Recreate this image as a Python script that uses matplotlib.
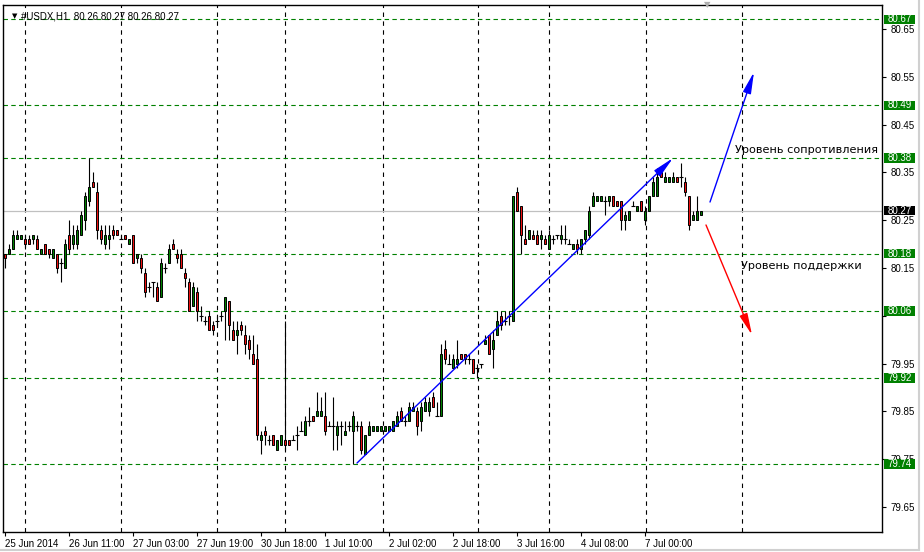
import matplotlib.pyplot as plt
from matplotlib.patches import Rectangle
from matplotlib.lines import Line2D
import matplotlib.transforms as mtransforms

# hourly USDX candles, bar index 0 .. 174
opens = [80.18, 80.18, 80.19, 80.21, 80.21, 80.21, 80.21, 80.21, 80.21, 80.18,
         80.20, 80.19, 80.17, 80.18, 80.16, 80.15, 80.22, 80.20, 80.20, 80.22,
         80.25, 80.29, 80.33, 80.31, 80.23, 80.20, 80.21, 80.23, 80.23, 80.21,
         80.22, 80.20, 80.22, 80.17, 80.17, 80.14, 80.11, 80.12, 80.11, 80.09,
         80.15, 80.16, 80.20, 80.18, 80.18, 80.14, 80.12, 80.07, 80.10, 80.05,
         80.04, 80.05, 80.03, 80.04, 80.05, 80.06, 80.08, 80.02, 80.01, 80.03,
         80.01, 80.00, 79.97, 79.96, 79.79, 79.81, 79.79, 79.80, 79.77, 79.78,
         79.79, 79.79, 79.79, 79.80, 79.81, 79.80, 79.83, 79.84, 79.84, 79.84,
         79.84, 79.82, 79.82, 79.80, 79.82, 79.80, 79.82, 79.81, 79.82, 79.82,
         79.76, 79.80, 79.81, 79.81, 79.81, 79.81, 79.81, 79.81, 79.82, 79.85,
         79.83, 79.83, 79.85, 79.85, 79.83, 79.85, 79.85, 79.88, 79.84, 79.84,
         79.98, 79.95, 79.94, 79.95, 79.97, 79.97, 79.96, 79.96, 79.94, 79.95,
         79.99, 80.01, 79.98, 80.01, 80.05, 80.04, 80.05, 80.04, 80.31, 80.28,
         80.21, 80.21, 80.22, 80.22, 80.21, 80.21, 80.19, 80.21, 80.22, 80.21,
         80.21, 80.20, 80.19, 80.20, 80.19, 80.21, 80.22, 80.28, 80.29, 80.29,
         80.29, 80.29, 80.30, 80.29, 80.29, 80.25, 80.25, 80.28, 80.27, 80.29,
         80.25, 80.27, 80.30, 80.30, 80.35, 80.33, 80.33, 80.33, 80.34, 80.34,
         80.33, 80.30, 80.25, 80.25, 80.26]
highs = [80.18, 80.20, 80.23, 80.23, 80.22, 80.22, 80.22, 80.22, 80.22, 80.19,
         80.20, 80.19, 80.19, 80.18, 80.17, 80.21, 80.25, 80.24, 80.24, 80.27,
         80.31, 80.38, 80.35, 80.33, 80.24, 80.24, 80.24, 80.24, 80.23, 80.22,
         80.22, 80.21, 80.22, 80.18, 80.18, 80.15, 80.12, 80.12, 80.12, 80.17,
         80.16, 80.20, 80.21, 80.19, 80.19, 80.15, 80.13, 80.12, 80.11, 80.07,
         80.05, 80.06, 80.04, 80.05, 80.06, 80.09, 80.08, 80.04, 80.04, 80.04,
         80.03, 80.01, 80.01, 79.99, 79.81, 79.82, 79.80, 79.80, 79.79, 79.80,
         80.04, 79.79, 79.80, 79.82, 79.83, 79.84, 79.86, 79.84, 79.89, 79.88,
         79.89, 79.83, 79.88, 79.83, 79.83, 79.83, 79.83, 79.85, 79.83, 79.83,
         79.80, 79.83, 79.82, 79.82, 79.82, 79.82, 79.82, 79.83, 79.85, 79.86,
         79.84, 79.87, 79.87, 79.86, 79.87, 79.88, 79.88, 79.89, 79.87, 79.99,
         80.00, 79.97, 79.97, 80.00, 79.97, 79.97, 79.97, 79.96, 79.95, 79.95,
         80.01, 80.01, 80.02, 80.06, 80.06, 80.06, 80.06, 80.30, 80.32, 80.28,
         80.24, 80.23, 80.23, 80.23, 80.23, 80.22, 80.23, 80.22, 80.22, 80.24,
         80.24, 80.21, 80.20, 80.21, 80.21, 80.23, 80.28, 80.31, 80.30, 80.30,
         80.30, 80.30, 80.30, 80.29, 80.29, 80.27, 80.27, 80.29, 80.28, 80.29,
         80.28, 80.30, 80.34, 80.36, 80.36, 80.35, 80.34, 80.35, 80.34, 80.37,
         80.34, 80.30, 80.27, 80.30, 80.27]
lows = [80.15, 80.18, 80.19, 80.21, 80.21, 80.19, 80.20, 80.20, 80.19, 80.18,
        80.18, 80.17, 80.17, 80.14, 80.12, 80.15, 80.18, 80.19, 80.19, 80.22,
        80.23, 80.28, 80.32, 80.21, 80.20, 80.19, 80.19, 80.21, 80.22, 80.21,
        80.21, 80.20, 80.16, 80.16, 80.14, 80.09, 80.10, 80.09, 80.08, 80.09,
        80.14, 80.16, 80.19, 80.16, 80.15, 80.11, 80.06, 80.07, 80.04, 80.04,
        80.03, 80.02, 80.01, 80.03, 80.04, 80.00, 80.00, 80.00, 79.97, 80.01,
        79.97, 79.96, 79.95, 79.79, 79.76, 79.78, 79.78, 79.78, 79.77, 79.78,
        79.77, 79.78, 79.79, 79.77, 79.81, 79.80, 79.82, 79.83, 79.84, 79.84,
        79.80, 79.82, 79.77, 79.77, 79.78, 79.80, 79.81, 79.74, 79.81, 79.76,
        79.76, 79.80, 79.81, 79.81, 79.81, 79.81, 79.81, 79.81, 79.82, 79.83,
        79.82, 79.83, 79.85, 79.80, 79.81, 79.85, 79.84, 79.86, 79.84, 79.84,
        79.95, 79.95, 79.94, 79.94, 79.96, 79.95, 79.95, 79.93, 79.92, 79.94,
        79.99, 79.97, 79.94, 80.01, 80.02, 80.03, 80.03, 80.04, 80.27, 80.18,
        80.20, 80.21, 80.21, 80.20, 80.19, 80.20, 80.19, 80.20, 80.21, 80.20,
        80.20, 80.20, 80.19, 80.18, 80.18, 80.20, 80.21, 80.28, 80.29, 80.29,
        80.26, 80.28, 80.28, 80.28, 80.23, 80.23, 80.25, 80.28, 80.27, 80.27,
        80.24, 80.27, 80.30, 80.30, 80.34, 80.33, 80.33, 80.33, 80.33, 80.32,
        80.30, 80.23, 80.25, 80.25, 80.26]
closes = [80.17, 80.19, 80.22, 80.22, 80.22, 80.20, 80.20, 80.22, 80.19, 80.19,
          80.18, 80.18, 80.19, 80.15, 80.16, 80.20, 80.19, 80.22, 80.23, 80.26,
          80.30, 80.32, 80.32, 80.23, 80.21, 80.22, 80.22, 80.22, 80.22, 80.21,
          80.21, 80.21, 80.16, 80.18, 80.15, 80.10, 80.11, 80.12, 80.08, 80.16,
          80.15, 80.19, 80.19, 80.17, 80.15, 80.13, 80.06, 80.11, 80.06, 80.05,
          80.04, 80.02, 80.02, 80.04, 80.05, 80.09, 80.03, 80.00, 80.02, 80.02,
          79.99, 79.98, 79.95, 79.80, 79.80, 79.80, 79.79, 79.78, 79.79, 79.80,
          79.78, 79.78, 79.79, 79.80, 79.81, 79.83, 79.83, 79.83, 79.85, 79.85,
          79.81, 79.82, 79.82, 79.82, 79.82, 79.81, 79.82, 79.84, 79.82, 79.77,
          79.80, 79.82, 79.82, 79.82, 79.82, 79.82, 79.82, 79.83, 79.84, 79.83,
          79.83, 79.86, 79.86, 79.82, 79.86, 79.87, 79.87, 79.86, 79.84, 79.97,
          79.96, 79.95, 79.96, 79.96, 79.96, 79.96, 79.96, 79.93, 79.94, 79.95,
          80.00, 79.97, 80.00, 80.04, 80.03, 80.04, 80.05, 80.30, 80.27, 80.22,
          80.20, 80.23, 80.21, 80.20, 80.22, 80.20, 80.22, 80.21, 80.22, 80.22,
          80.21, 80.20, 80.20, 80.19, 80.21, 80.23, 80.27, 80.30, 80.30, 80.30,
          80.29, 80.30, 80.28, 80.28, 80.25, 80.26, 80.27, 80.28, 80.28, 80.27,
          80.27, 80.30, 80.33, 80.34, 80.34, 80.34, 80.34, 80.34, 80.33, 80.34,
          80.31, 80.24, 80.26, 80.27, 80.27]

levels = [80.67, 80.49, 80.38, 80.18, 80.06, 79.92, 79.74]
last_price = 80.27
day_lines = [5.08, 29.08, 53.08, 70.1, 94.4, 118.3, 136.0, 160.25, 184.25]
xtick_bars = [0, 16, 32, 48, 64, 80, 96, 112, 128, 144, 160]
xtick_labels = ['25 Jun 2014', '26 Jun 11:00', '27 Jun 03:00', '27 Jun 19:00',
                '30 Jun 18:00', '1 Jul 10:00', '2 Jul 02:00', '2 Jul 18:00',
                '3 Jul 16:00', '4 Jul 08:00', '7 Jul 00:00']
yticks = [80.65, 80.55, 80.45, 80.35, 80.25, 80.15, 80.05, 79.95, 79.85, 79.75, 79.65]

W, H = 924, 552
fig = plt.figure(figsize=(W / 100, H / 100), dpi=100)
ax = fig.add_axes([3 / W, 20 / H, 879 / W, 527 / H])
ax.set_xlim(-0.5, 219.25)
ax.set_ylim(79.5977, 80.7002)

green = '#008000'
bull = '#008000'
bear = '#ee1111'
small = dict(family='Liberation Sans', size=7)

# grid
for x in day_lines:
    ax.axvline(x, color='black', lw=0.8, ls=(0, (4, 4)), zorder=1)
for lv in levels:
    ax.axhline(lv, color=green, lw=0.8, ls=(0, (4, 3)), zorder=1)
ax.axhline(last_price, color='#c0c0c0', lw=0.9, zorder=1)

# candles
for i in range(len(opens)):
    o, h, l, c = opens[i], highs[i], lows[i], closes[i]
    h = max(h, o, c)
    l = min(l, o, c)
    ax.vlines(i, l, h, color='black', lw=0.8, zorder=2)
    if abs(c - o) < 1e-9:
        ax.hlines(o, i - 0.45, i + 0.45, color='black', lw=0.8, zorder=3)
    else:
        ax.bar(i, abs(c - o), bottom=min(o, c), width=0.72,
               color=bull if c > o else bear, edgecolor='black', lw=0.7, zorder=3)

# trend arrows and text
head = '-|>,head_length=1.3,head_width=0.25'
ax.annotate('', xy=(167, 80.38), xytext=(88, 79.742),
            arrowprops=dict(arrowstyle=head, color='blue', lw=1, shrinkA=0, shrinkB=0), zorder=5)
ax.annotate('', xy=(187.25, 80.56), xytext=(176.25, 80.288),
            arrowprops=dict(arrowstyle=head, color='blue', lw=1, shrinkA=0, shrinkB=0), zorder=5)
ax.annotate('', xy=(186.75, 80.01), xytext=(175.25, 80.24),
            arrowprops=dict(arrowstyle=head, color='red', lw=1, shrinkA=0, shrinkB=0), zorder=5)
ax.text(182.5, 80.397, 'Уровень сопротивления', fontsize=8.1, va='center', ha='left')
ax.text(184, 80.154, 'Уровень поддержки', fontsize=8.1, va='center', ha='left')

# header
ax.text(0.010, 0.985, '▼', transform=ax.transAxes, fontsize=5, va='top', ha='left')
ax.text(0.021, 0.988, '#USDX,H1  80.26 80.27 80.26 80.27', transform=ax.transAxes,
        va='top', ha='left', **small)

# axes styling
for s in ax.spines.values():
    s.set_color('black')
    s.set_linewidth(1)
ax.yaxis.tick_right()
ax.set_yticks(yticks)
# 80.05 sits fully under the 80.06 box in the reference
ax.set_yticklabels(['' if v == 80.05 else f'{v:.2f}' for v in yticks], **small)
ax.tick_params(axis='y', direction='out', length=3, pad=3, width=0.8)
ax.set_xticks(xtick_bars)
ax.set_xticklabels(xtick_labels, ha='left', **small)
ax.tick_params(axis='x', direction='out', length=3, pad=2, width=0.8)

# price level boxes on the right
trans = mtransforms.blended_transform_factory(ax.transAxes, ax.transData)
bw = 31 / 879
bh = 9.5 / 478
for lv in levels + [last_price]:
    fc = 'black' if lv == last_price else green
    ax.add_patch(Rectangle((1.002, lv - bh / 2), bw, bh, transform=trans,
                           facecolor=fc, edgecolor='none', clip_on=False, zorder=10))
    ax.text(1.002 + bw / 2, lv, f'{lv:.2f}', transform=trans, color='white',
            ha='center', va='center', clip_on=False, zorder=11, **small)

# shift marker at top and window frame
fig.text(707 / W, 1 - 5 / H, '▼', color='#b0b0b0', fontsize=6, ha='center', va='center')
fig.add_artist(Line2D([919 / W, 919 / W], [2 / H, 1], color='#d0d0d0', lw=1.5))
fig.add_artist(Line2D([0, 919 / W], [2 / H, 2 / H], color='#d0d0d0', lw=1.5))

fig.savefig('out.png', dpi=100, facecolor='white')
